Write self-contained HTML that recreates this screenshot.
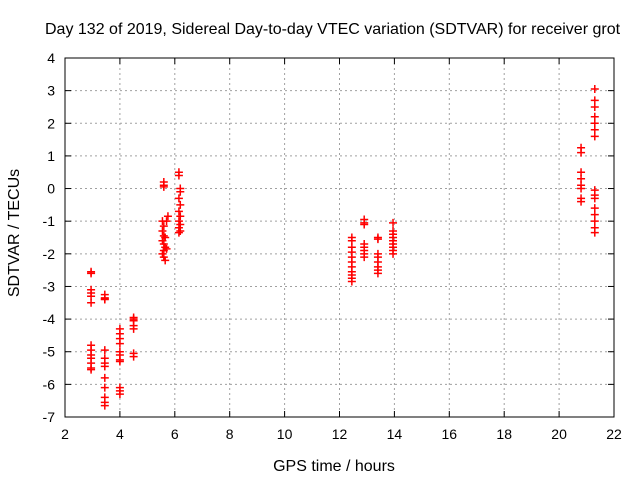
<!DOCTYPE html>
<html><head><meta charset="utf-8"><style>
html,body{margin:0;padding:0;background:#fff;}
svg{display:block;font-family:"Liberation Sans",sans-serif;}
</style></head><body>
<svg id="chart" width="640" height="480">
<text x="45" y="34" font-size="16" text-anchor="start">Day 132 of 2019, Sidereal Day-to-day VTEC variation (SDTVAR) for receiver grot</text>
<text x="334" y="471" font-size="16" text-anchor="middle">GPS time / hours</text>
<text transform="translate(19,233) rotate(-90)" font-size="16" text-anchor="middle">SDTVAR / TECUs</text>
<g id="grid"></g><g id="axes"></g><g id="marks"></g>
</svg>
<script>
const xTicks=[2,4,6,8,10,12,14,16,18,20,22];
const yTicks=[4,3,2,1,0,-1,-2,-3,-4,-5,-6,-7];
const hours=[2.95,2.95,2.95,2.95,2.95,2.95,2.95,2.95,2.95,2.95,2.95,2.95,2.95,
3.45,3.45,3.45,3.45,3.45,3.45,3.45,3.45,3.45,3.45,3.45,3.45,3.45,
4.0,4.0,4.0,4.0,4.0,4.0,4.0,4.0,4.0,4.0,4.0,
4.5,4.5,4.5,4.5,4.5,4.5,4.5,
5.6,5.6,5.6,5.55,5.6,5.55,5.6,5.65,5.55,5.6,5.65,5.6,5.55,5.6,5.65,5.7,5.75,5.7,
6.15,6.15,6.2,6.2,6.15,6.2,6.15,6.2,6.15,6.2,6.15,6.2,6.15,
12.45,12.45,12.45,12.45,12.45,12.45,12.45,12.45,12.45,12.45,12.45,
12.9,12.9,12.9,12.9,12.9,12.9,12.9,12.9,
13.4,13.4,13.4,13.4,13.4,13.4,13.4,13.4,
13.95,13.95,13.95,13.95,13.95,13.95,13.95,13.95,13.95,
20.8,20.8,20.8,20.8,20.8,20.8,20.8,20.8,
21.3,21.3,21.3,21.3,21.3,21.3,21.3,21.3,21.3,21.3,21.3,21.3,21.3,21.3,21.3];
const values=[-2.55,-2.6,-3.1,-3.2,-3.3,-3.5,-4.8,-4.95,-5.1,-5.2,-5.35,-5.5,-5.55,
-3.25,-3.35,-3.4,-3.38,-4.95,-5.2,-5.35,-5.45,-5.8,-6.1,-6.4,-6.55,-6.65,
-4.3,-4.45,-4.6,-4.75,-5.0,-5.1,-5.25,-5.3,-6.1,-6.2,-6.3,
-3.95,-4.0,-4.05,-4.2,-4.3,-5.05,-5.15,
0.05,0.1,0.2,-1.0,-1.15,-1.3,-1.45,-1.5,-1.6,-1.7,-1.8,-1.9,-2.0,-2.1,-2.2,-1.0,-0.85,-1.85,
0.5,0.4,0.0,-0.1,-0.3,-0.5,-0.7,-0.85,-1.0,-1.1,-1.2,-1.3,-1.35,
-1.5,-1.6,-1.8,-1.95,-2.1,-2.25,-2.4,-2.55,-2.65,-2.75,-2.85,
-0.95,-1.05,-1.1,-1.7,-1.8,-1.9,-2.0,-2.1,
-1.5,-1.55,-2.0,-2.1,-2.25,-2.4,-2.5,-2.6,
-1.05,-1.3,-1.4,-1.5,-1.6,-1.7,-1.8,-1.9,-2.0,
1.25,1.1,0.5,0.3,0.1,0.0,-0.3,-0.4,
3.05,2.7,2.5,2.2,2.0,1.8,1.6,-0.05,-0.2,-0.3,-0.6,-0.8,-1.0,-1.2,-1.35];
const X0=65,X1=614,Y0=58,Y1=417;
const xs=v=>X0+(v-2)/20*(X1-X0);
const ys=v=>Y0+(4-v)/11*(Y1-Y0);
const NS="http://www.w3.org/2000/svg";
function mk(t,a,p){const e=document.createElementNS(NS,t);for(const k in a)e.setAttribute(k,a[k]);p.appendChild(e);return e;}
const grid=document.getElementById('grid'),axes=document.getElementById('axes'),marks=document.getElementById('marks');
xTicks.forEach(t=>{const x=xs(t);
 if(t>2&&t<22){const g=mk('line',{x1:x,x2:x,y1:Y0,y2:Y1,stroke:'#a0a0a0','stroke-dasharray':'2,3'},grid);
 
 }
 mk('line',{x1:x,x2:x,y1:Y1,y2:Y1-6,stroke:'#000'},axes);
 mk('line',{x1:x,x2:x,y1:Y0,y2:Y0+6,stroke:'#000'},axes);
 const l=mk('text',{x:x,y:Y1+22,'font-size':14,'text-anchor':'middle'},axes);l.textContent=t;
 
 });
yTicks.forEach(t=>{const y=ys(t);
 if(t<4&&t>-7){const g=mk('line',{x1:X0,x2:X1,y1:y,y2:y,stroke:'#a0a0a0','stroke-dasharray':'2,3'},grid);
 
 }
 mk('line',{x1:X0,x2:X0+6,y1:y,y2:y,stroke:'#000'},axes);
 mk('line',{x1:X1,x2:X1-6,y1:y,y2:y,stroke:'#000'},axes);
 const l=mk('text',{x:X0-10,y:y+5,'font-size':14,'text-anchor':'end'},axes);l.textContent=t;
 
 });
const fr=mk('rect',{x:X0,y:Y0,width:X1-X0,height:Y1-Y0,fill:'none',stroke:'#000'},axes);


hours.forEach((h,i)=>{const x=xs(h),y=ys(values[i]);
 const g=mk('path',{d:`M${x-4},${y}h8M${x},${y-4}v8`,stroke:'#f00','stroke-width':1.5},marks);
 
 });
</script>
</body></html>
